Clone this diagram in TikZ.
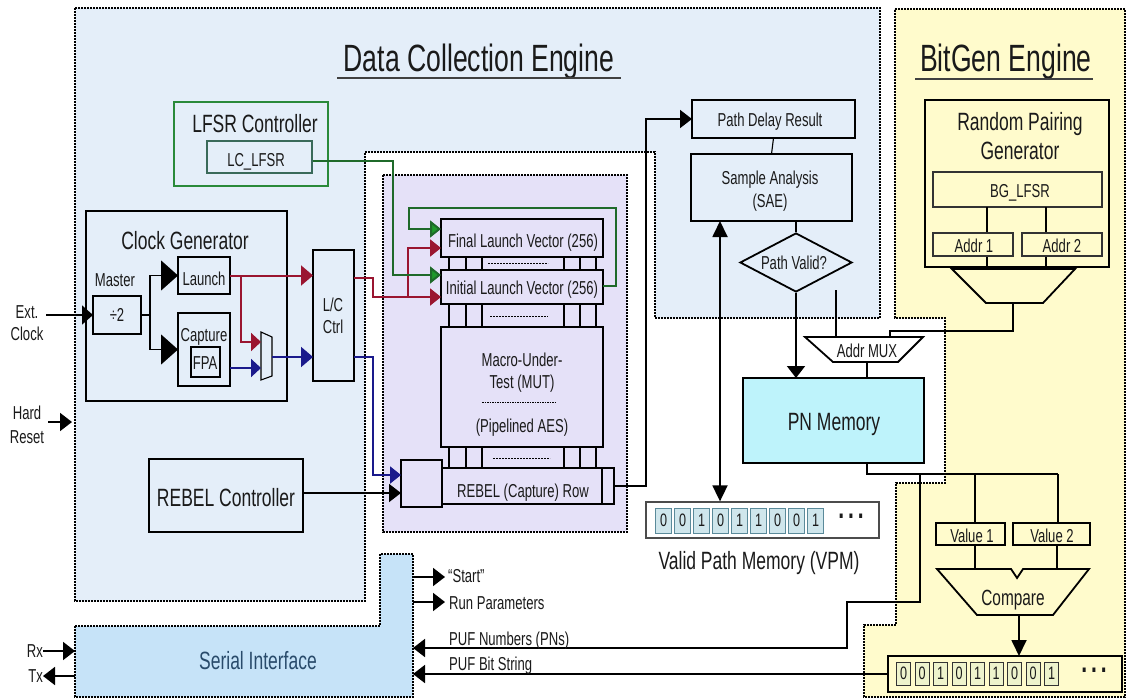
\documentclass[tikz,border=0pt]{standalone}
\usepackage{fontspec}
\setmainfont{Liberation Sans}[FakeStretch=0.70]
\usetikzlibrary{arrows.meta,shapes.geometric}
\definecolor{dcebg}{HTML}{E4EEF9}
\definecolor{purp}{HTML}{E5E1F8}
\definecolor{yel}{HTML}{FFFBCC}
\definecolor{pnc}{HTML}{BEF3FB}
\definecolor{serc}{HTML}{C6E3F8}
\definecolor{grnbox}{HTML}{2A8A3A}
\definecolor{grnl}{HTML}{1F6A2A}
\definecolor{grnt}{HTML}{1E9A2A}
\definecolor{mred}{HTML}{9A1530}
\definecolor{mblue}{HTML}{1A1A8C}
\definecolor{txt}{HTML}{1A1A1A}
\definecolor{sertxt}{HTML}{294B6B}
\definecolor{vcell}{HTML}{CFE6EC}
\definecolor{vcelld}{HTML}{5A8A9A}
\definecolor{bcell}{HTML}{EEF3CC}
\definecolor{lcbox}{HTML}{3A6A5A}
\newcommand{\boxat}[7]{%
  \pgfmathsetmacro\myW{#4-#2}\pgfmathsetmacro\myH{#5-#3}%
  \pgfmathsetmacro\myX{(#2+#4)/2}\pgfmathsetmacro\myY{(#3+#5)/2}%
  \node[#6, minimum width=\myW pt, minimum height=\myH pt] (#1) at (\myX,\myY) {#7};}
\tikzset{
  region/.style={draw=black, line width=1.4pt, dash pattern=on 2pt off 1pt},
  blk/.style={draw=black, line width=1.8pt, inner sep=0pt, outer sep=0pt},
  mblk/.style={draw=black, line width=1.3pt, inner sep=0pt, outer sep=0pt},
  thinblk/.style={draw=black!80, line width=1.1pt, inner sep=0pt, outer sep=0pt},
  conn/.style={line width=1.8pt, draw=black},
  thinconn/.style={line width=1.1pt, draw=black},
  tip/.style={-{Triangle[length=12pt,width=18pt]}},
  vtip/.style={-{Triangle[length=16pt,width=15pt]}},
  bigtip/.style={-{Triangle[length=17pt,width=30pt]}},
  sm/.style={font=\fontsize{18.7}{20}\selectfont, text=txt, inner sep=0pt, anchor=base},
  md/.style={font=\fontsize{25}{27}\selectfont, text=txt, inner sep=0pt, anchor=base},
  lg/.style={font=\fontsize{38}{40}\selectfont, text=txt, inner sep=0pt, anchor=base},
  dotsst/.style={font=\fontsize{30}{30}\selectfont\bfseries, text=txt, inner sep=0pt},
  vcellst/.style={draw=vcelld, line width=0.9pt, fill=vcell, minimum width=16.5pt, minimum height=25pt, inner sep=0pt, font=\fontsize{18}{20}\selectfont, text=txt},
  bcellst/.style={draw=black!80, line width=1pt, fill=bcell, minimum width=14pt, minimum height=23pt, inner sep=0pt, font=\fontsize{18}{20}\selectfont, text=txt},
}
\begin{document}
\begin{tikzpicture}[x=1pt,y=-1pt]
\useasboundingbox (0,0) rectangle (1130,698);
\fill[white] (0,0) rectangle (1130,698);
% ---------------- regions
\path[region, fill=dcebg] (75,8) -- (880,8) -- (880,318) -- (655,318) -- (655,152) -- (365,152) -- (365,601) -- (75,601) -- cycle;
\path[region, fill=purp] (383,175) rectangle (627,532);
\path[region, fill=yel] (895,9) -- (1125,9) -- (1125,697) -- (864,697) -- (864,625) -- (896,625) -- (896,483) -- (945,483) -- (945,318) -- (895,318) -- cycle;
\path[region, fill=serc] (75,626) -- (380,626) -- (380,554) -- (413,554) -- (413,697) -- (75,697) -- cycle;

% ---------------- titles
\node[lg] (dcetitle) at (479,72) {Data Collection Engine};
\draw[line width=1.4pt, black!75] (337,78) -- (621,78);
\node[lg] (bgtitle) at (1006,72) {BitGen Engine};
\draw[line width=1.4pt, black!75] (915,79) -- (1093,79);

% ---------------- LFSR controller
\boxat{lfsr}{174}{102}{328}{186}{draw=grnbox, line width=2pt, inner sep=0pt}{}
\boxat{lclfsr}{207}{141}{312}{173}{draw=lcbox, line width=1.1pt, inner sep=0pt}{}
\node[md] (lfsrlbl) at (255,133) {LFSR Controller};
\node[sm] (lclbl) at (256,167) {LC\_LFSR};

% ---------------- clock generator
\boxat{clk}{86}{211}{287}{401}{blk}{}
\node[md] (clklbl) at (185,249) {Clock Generator};
\boxat{div}{93}{296}{141}{334}{mblk}{}
\node[sm] (divlbl) at (117,321) {÷2};
\node[sm] (mastlbl) at (115,286) {Master};
\boxat{launch}{178}{257}{230}{294}{mblk}{}
\node[sm] (launchlbl) at (204,285) {Launch};
\boxat{capt}{178}{313}{230}{386}{mblk}{}
\node[sm] (captlbl) at (204,341) {Capture};
\boxat{fpa}{191}{347}{220}{377}{mblk}{}
\node[sm] (fpalbl) at (205,369) {FPA};
\coordinate (cmuxa) at (261,332);
\coordinate (cmuxb) at (272,337);
\coordinate (cmuxc) at (272,376);
\coordinate (cmuxd) at (261,380);
\draw[line width=1.1pt] (cmuxa) -- (cmuxb) -- (cmuxc) -- (cmuxd) -- cycle;
\coordinate (cmuxin1) at (261,342);
\coordinate (cmuxin2) at (261,368);
\coordinate (cmuxout) at (272,357);
\boxat{lc}{313}{250}{354}{381}{blk}{}
\node[sm] (lc1) at (333,311) {L/C};
\node[sm] (lc2) at (333,333) {Ctrl};

\node[sm] (ext1) at (27,318) {Ext.};
\node[sm] (ext2) at (27,340) {Clock};
\coordinate (extin) at (46,315);
\draw[conn, -{Triangle[length=11pt,width=19pt]}] (extin) -- (div.west);
\node[sm] (hard1) at (27,419) {Hard};
\node[sm] (hard2) at (27,443) {Reset};
\coordinate (hardin) at (48,422);
\coordinate (hardend) at (72,422);
\draw[conn, -{Triangle[length=12pt,width=18pt]}] (hardin) -- (hardend);

\coordinate (split) at (150,315);
\draw[thinconn] (div.east) -- (split);
\draw[thinconn, bigtip] (split) |- (launch.west);
\draw[thinconn, bigtip] (split) |- (capt.west);
\draw[line width=2pt, mred, -{Triangle[length=12pt,width=20pt]}] (launch.east) -- (lc.west |- launch.east);
\draw[line width=2pt, mred, -{Triangle[length=10pt,width=18pt]}] (241,275.5) |- (cmuxin1);
\draw[line width=2pt, mblue, -{Triangle[length=10pt,width=18pt]}] (capt.east |- cmuxin2) -- (cmuxin2);
\draw[line width=2pt, mblue, -{Triangle[length=12pt,width=20pt]}] (cmuxout) -- (lc.west |- cmuxout);

% ---------------- REBEL controller
\boxat{rebc}{149}{459}{303}{532}{blk}{}
\node[md] (rebclbl) at (226,506) {REBEL Controller};

% ---------------- MUT block
\foreach \xx in {449,466,482,564,580,596}{
  \draw[line width=1.3pt] (\xx,257) -- (\xx,270);
  \draw[line width=1.3pt] (\xx,304) -- (\xx,327);
  \draw[line width=1.3pt] (\xx,447) -- (\xx,468);
}
\draw[line width=1pt, dash pattern=on 2pt off 1pt] (488,263) -- (548,263);
\draw[line width=1pt, dash pattern=on 2pt off 1pt] (490,316) -- (548,316);
\draw[line width=1pt, dash pattern=on 2pt off 1pt] (493,458) -- (550,458);
\boxat{flv}{441}{219}{603}{257}{blk}{}
\node[sm] (flvlbl) at (523,247) {Final Launch Vector (256)};
\boxat{ilv}{441}{270}{603}{304}{blk}{}
\node[sm] (ilvlbl) at (522,294) {Initial Launch Vector (256)};
\boxat{mut}{441}{327}{603}{447}{blk}{}
\node[sm] (mut1) at (522,366) {Macro-Under-};
\node[sm] (mut2) at (522,388) {Test (MUT)};
\draw[line width=0.9pt, dash pattern=on 1.5pt off 1pt] (482,402) -- (557,402);
\node[sm] (mut3) at (522,432) {(Pipelined AES)};
\boxat{rrow}{442}{468}{614}{504}{blk}{}
\draw[line width=1.1pt] (602,468) -- (602,504);
\node[sm] (rrowlbl) at (523,497) {REBEL (Capture) Row};
\boxat{rsq}{401}{460}{442}{507}{blk}{}

% LC outputs
\draw[line width=2pt, mred, -{Triangle[length=11pt,width=17pt]}] (lc.east |- 0,278) -- (373,278) -- (373,297) -- (ilv.west |- 0,297);
\draw[line width=2pt, mred, -{Triangle[length=11pt,width=17pt]}] (408,297) |- (flv.west |- 0,248);
\draw[line width=2pt, mblue, -{Triangle[length=11pt,width=17pt]}] (lc.east |- 0,357) -- (373,357) -- (373,475) -- (rsq.west |- 0,475);
\draw[line width=2pt, grnl, -{Triangle[length=11pt,width=17pt,fill=grnt]}] (lclfsr.east |- 0,161) -- (393,161) -- (393,275) -- (ilv.west |- 0,275);
\draw[line width=2pt, grnl, -{Triangle[length=11pt,width=17pt,fill=grnt]}] (ilv.east |- 0,286) -- (616,286) -- (616,208) -- (409,208) -- (409,229) -- (flv.west |- 0,229);
\draw[conn, tip] (rebc.east |- 0,493) -- (rsq.west |- 0,493);

% ---------------- SAE column
\boxat{pdr}{692}{100}{855}{138}{blk}{}
\node[sm] (pdrlbl) at (770,127) {Path Delay Result};
\boxat{sae}{691}{154}{852}{221}{blk}{}
\node[sm] (sae1) at (770,184) {Sample Analysis};
\node[sm] (sae2) at (770,207) {(SAE)};
\node[diamond, draw=black, line width=1.8pt, minimum width=112pt, minimum height=59pt, inner sep=0pt] (pv) at (796,262.5) {};
\node[sm] (pvlbl) at (794,269) {Path Valid?};
\draw[thinconn] (pdr.south) -- (sae.north);
\draw[thinconn] (sae.south -| pv.north) -- (pv.north);
\draw[conn, tip] (rrow.east) -- ++(32,0) |- (pdr.west);

% ---------------- PN memory, Addr MUX
\coordinate (amuxa) at (805,337);
\coordinate (amuxb) at (923,337);
\coordinate (amuxc) at (898,362);
\coordinate (amuxd) at (833,362);
\draw[line width=1.8pt, fill=white] (amuxa) -- (amuxb) -- (amuxc) -- (amuxd) -- cycle;
\node[sm] (amuxlbl) at (867,357) {Addr MUX};
\boxat{pnm}{743}{378}{924}{463}{blk, fill=pnc}{}
\node[md] (pnmlbl) at (834,430) {PN Memory};
\draw[conn, tip] (pv.south) -- (pv.south |- pnm.north);
\coordinate (pvside) at (836,290);
\draw[thinconn] (pvside) -- (pvside |- amuxa);
\draw[thinconn] (867,362) -- (pnm.north -| 867,0);

% ---------------- VPM
\boxat{vpm}{646}{502}{879}{538}{draw=black!70, line width=1.3pt, fill=white, inner sep=0pt}{}
\foreach \d [count=\i from 0] in {0,0,1,0,1,1,0,0,1}{
  \node[vcellst] (vc\i) at (663.5+19*\i, 520.5) {\d};
}
\node[dotsst] (vdots) at (851,516) {.\hspace{4pt}.\hspace{4pt}.};
\node[md] (vpmlbl) at (759,569) {Valid Path Memory (VPM)};
\draw[line width=1.8pt, {Triangle[length=16pt,width=15pt]}-{Triangle[length=16pt,width=15pt]}] (vpm.north -| 720,0) -- (sae.south -| 720,0);

% ---------------- Random pairing generator
\boxat{rpg}{925}{100}{1109}{267}{blk}{}
\node[md] (rp1) at (1020,131) {Random Pairing};
\node[md] (rp2) at (1020,160) {Generator};
\boxat{bglfsr}{933}{172}{1102}{207}{thinblk}{}
\node[sm] (bglbl) at (1020,197) {BG\_LFSR};
\draw[line width=1.3pt] (987,207) -- (987,269);
\draw[line width=1.3pt] (1046,207) -- (1046,269);
\boxat{addr1}{933}{233}{1013}{256}{thinblk, fill=yel}{}
\boxat{addr2}{1022}{233}{1102}{256}{thinblk, fill=yel}{}
\node[sm] (a1lbl) at (974,252) {Addr 1};
\node[sm] (a2lbl) at (1062,252) {Addr 2};
\coordinate (rpa) at (952,269);
\coordinate (rpb) at (1075,269);
\coordinate (rpc) at (1043,303);
\coordinate (rpd) at (986,303);
\draw[line width=1.8pt] (rpa) -- (rpb) -- (rpc) -- (rpd) -- cycle;
\coordinate (rpout) at (1013,303);
\draw[conn] (rpout) -- (1013,331) -- (890,331) -- (890,337);

% ---------------- Compare section
\boxat{val1}{936}{523}{1005}{545}{blk}{}
\boxat{val2}{1013}{523}{1090}{545}{blk}{}
\node[sm] (v1lbl) at (972,542) {Value 1};
\node[sm] (v2lbl) at (1052,542) {Value 2};
\coordinate (cmpa) at (937,569);
\coordinate (cmpb) at (1011,569);
\coordinate (cmpn) at (1017,578);
\coordinate (cmpc) at (1023,569);
\coordinate (cmpd) at (1089,569);
\coordinate (cmpe) at (1053,615);
\coordinate (cmpf) at (977,615);
\draw[line width=1.8pt] (cmpa) -- (cmpb) -- (cmpn) -- (cmpc) -- (cmpd) -- (cmpe) -- (cmpf) -- cycle;
\node[font=\fontsize{22}{24}\selectfont, text=txt, inner sep=0pt, anchor=base] (cmplbl) at (1013,605) {Compare};
\coordinate (cmpout) at (1019,615);
\boxat{bits}{888}{656}{1122}{692}{blk}{}
\foreach \d [count=\i from 0] in {0,0,1,0,1,1,0,0,1}{
  \node[bcellst] (bc\i) at (903.5+18.5*\i, 673.5) {\d};
}
\node[dotsst] (bdots) at (1094,670) {.\hspace{4pt}.\hspace{4pt}.};
\draw[conn, vtip] (cmpout) -- (bits.north -| cmpout);

% PN memory outputs
\coordinate (pnbus) at (867,474);
\draw[conn] (pnm.south -| pnbus) -- (pnbus) -- (1058,474);
\draw[conn] (975,474) -- (val1.north -| 975,0);
\draw[conn] (1058,474) -- (val2.north -| 1058,0);
\draw[conn] (val1.south -| 975,0) -- (975,569);
\draw[conn] (val2.south -| 1057,0) -- (1057,569);

% ---------------- Serial interface
\node[md, text=sertxt] (serlbl) at (258,669) {Serial Interface};
\coordinate (serr) at (413,600);
\draw[conn, tip] (serr |- 0,577) -- (445,577);
\draw[conn, tip] (serr |- 0,602) -- (445,602);
\node[sm, anchor=base west] (startlbl) at (448,582) {“Start”};
\node[sm, anchor=base west] (runlbl) at (449,609) {Run Parameters};
\draw[conn, tip] (920,474) -- (920,602) -- (847,602) -- (847,648) -- (serr |- 0,648);
\node[sm, anchor=base west] (pufnlbl) at (449,645) {PUF Numbers (PNs)};
\draw[conn, tip] (bits.west) -- (serr |- bits.west);
\node[sm, anchor=base west] (pufblbl) at (449,670) {PUF Bit String};
\node[sm, anchor=base east] (rxlbl) at (43,657) {Rx};
\node[sm, anchor=base east] (txlbl) at (43,682) {Tx};
\coordinate (rxa) at (43,651);
\coordinate (txa) at (43,676);
\draw[conn, tip] (rxa) -- (75,651);
\draw[conn, tip] (75,676) -- (txa);
\end{tikzpicture}
\end{document}
